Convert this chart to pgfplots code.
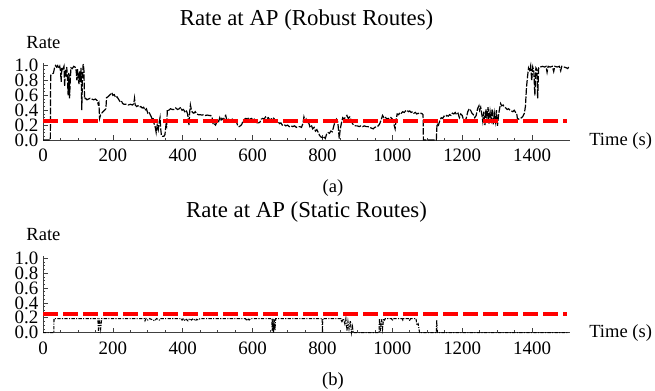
\documentclass[border=0pt]{standalone}
\usepackage{pgfplots}
\pgfplotsset{compat=1.18}
\usepackage{fontspec}
\setmainfont{Liberation Serif}

\pgfplotstableread{
x y
0 0
21 0
22 0.87
25 0.88
30 0.90
33 0.97
36 1.00
39 0.98
42 1.00
45 0.96
48 0.99
50 0.93
52 0.78
54 0.97
57 0.95
60 0.99
62 0.72
64 0.95
66 0.90
68 0.98
70 0.82
72 0.60
74 0.90
76 0.56
78 0.80
80 0.97
84 0.96
88 0.99
92 0.98
95 0.93
97 0.80
99 0.95
101 0.85
103 0.75
105 0.92
107 0.78
109 0.97
111 0.40
113 0.85
115 1.02
117 0.95
119 0.55
122 0.56
126 0.54
130 0.55
135 0.56
140 0.55
145 0.54
150 0.55
155 0.53
158 0.48
160 0.50
162 0.29
165 0.34
168 0.36
172 0.38
176 0.40
180 0.42
182 0.57
186 0.58
190 0.60
194 0.62
197 0.635
200 0.60
204 0.61
208 0.57
212 0.58
216 0.55
220 0.52
224 0.53
228 0.49
232 0.48
238 0.48
244 0.47
250 0.48
256 0.47
260 0.49
262 0.56
264 0.47
268 0.45
272 0.46
276 0.44
280 0.45
284 0.43
288 0.44
292 0.40
296 0.42
300 0.36
304 0.37
308 0.33
312 0.29
315 0.30
318 0.22
321 0.18
324 0.10
327 0.20
330 0.14
333 0.25
335 0.30
337 0.15
339 0.06
342 0.05
346 0.05
349 0.07
352 0.20
354 0.18
356 0.41
360 0.40
365 0.42
370 0.41
375 0.41
380 0.43
385 0.41
390 0.42
394 0.44
398 0.40
402 0.41
406 0.38
410 0.40
414 0.35
418 0.20
420 0.38
422 0.47
425 0.40
428 0.37
432 0.36
436 0.38
440 0.35
445 0.34
450 0.34
455 0.335
460 0.34
465 0.33
470 0.335
475 0.33
480 0.33
484 0.30
487 0.21
490 0.22
494 0.20
497 0.24
500 0.27
503 0.25
506 0.30
509 0.26
512 0.29
516 0.27
520 0.31
523 0.33
526 0.27
530 0.29
534 0.26
538 0.27
542 0.28
546 0.26
550 0.27
554 0.24
557 0.20
561 0.18
565 0.19
569 0.21
573 0.26
577 0.28
581 0.29
585 0.28
589 0.30
593 0.28
597 0.29
601 0.27
605 0.28
609 0.25
613 0.23
617 0.23
621 0.24
625 0.28
629 0.29
633 0.28
637 0.31
641 0.29
645 0.30
649 0.27
653 0.28
657 0.30
661 0.29
665 0.26
669 0.24
673 0.25
677 0.22
681 0.23
685 0.20
690 0.21
695 0.19
700 0.20
705 0.18
710 0.19
715 0.18
720 0.19
725 0.17
730 0.18
735 0.18
740 0.17
744 0.22
747 0.31
750 0.26
753 0.28
756 0.22
760 0.24
764 0.18
768 0.20
772 0.15
776 0.17
780 0.12
784 0.14
788 0.10
792 0.06
796 0.04
800 0.03
804 0.05
808 0.02
812 0.08
816 0.10
820 0.09
824 0.12
828 0.11
832 0.18
836 0.25
840 0.28
844 0.24
848 0.02
851 0.15
854 0.22
858 0.30
862 0.28
866 0.31
870 0.33
874 0.29
878 0.31
882 0.27
886 0.22
890 0.20
895 0.19
900 0.19
905 0.18
910 0.19
915 0.18
920 0.19
925 0.18
930 0.18
935 0.17
940 0.16
945 0.15
950 0.17
955 0.18
960 0.19
964 0.22
968 0.27
972 0.33
976 0.30
980 0.31
984 0.28
988 0.29
992 0.27
996 0.30
1000 0.28
1004 0.22
1008 0.15
1011 0.28
1014 0.35
1018 0.34
1022 0.37
1026 0.36
1030 0.38
1034 0.37
1038 0.39
1042 0.40
1046 0.38
1050 0.39
1054 0.37
1058 0.38
1062 0.36
1066 0.37
1070 0.35
1074 0.36
1078 0.35
1082 0.36
1086 0.35
1088 0.34
1089 0.0
1126 0.0
1128 0.22
1132 0.20
1136 0.26
1140 0.30
1144 0.29
1148 0.32
1152 0.31
1156 0.33
1160 0.32
1164 0.34
1168 0.33
1172 0.36
1176 0.35
1180 0.37
1184 0.34
1188 0.36
1192 0.30
1196 0.35
1200 0.33
1204 0.27
1208 0.25
1212 0.30
1216 0.38
1220 0.42
1224 0.40
1228 0.36
1232 0.34
1236 0.30
1240 0.33
1244 0.42
1248 0.46
1250 0.40
1253 0.44
1256 0.35
1259 0.25
1262 0.38
1265 0.20
1268 0.41
1271 0.30
1274 0.44
1277 0.22
1280 0.38
1283 0.28
1286 0.42
1289 0.21
1292 0.36
1295 0.25
1298 0.40
1301 0.19
1304 0.33
1307 0.42
1310 0.49
1313 0.46
1317 0.47
1321 0.44
1325 0.43
1329 0.41
1333 0.42
1337 0.40
1341 0.39
1345 0.38
1349 0.40
1353 0.37
1356 0.36
1358 0.29
1362 0.28
1366 0.29
1370 0.30
1374 0.32
1378 0.36
1381 0.45
1384 0.70
1387 0.85
1390 0.97
1393 0.94
1396 1.00
1399 0.80
1402 0.98
1405 0.93
1408 0.60
1411 0.97
1414 0.95
1416 0.56
1419 0.97
1424 0.98
1430 0.99
1436 0.98
1440 0.99
1443 0.91
1446 0.99
1452 0.98
1458 0.99
1462 0.92
1465 0.99
1472 0.98
1478 0.99
1482 0.93
1485 0.99
1492 0.98
1498 0.97
1502 0.96
1505 0.98
}\robust

\pgfplotstableread{
x y
0 0
31 0
31.5 0.19
157 0.19
159 0.0
161 0.19
165 0.05
168 0.19
290 0.19
292 0.16
295 0.19
300 0.17
305 0.19
320 0.16
325 0.19
333 0.17
336 0.19
396 0.19
398 0.17
402 0.19
406 0.16
410 0.18
415 0.16
420 0.19
425 0.17
430 0.19
436 0.16
440 0.18
445 0.17
450 0.19
580 0.19
582 0.16
586 0.19
590 0.17
594 0.19
655 0.19
656 0.02
658 0.19
660 0.0
662 0.18
664 0.03
666 0.19
799 0.19
800 0.0
801 0.19
853 0.19
855 0.14
860 0.19
864 0.12
867 0.19
870 0.02
873 0.15
876 0.05
880 0.16
883 0.0
886 0.08
888 0.0
962 0.0
963 0.19
966 0.02
969 0.18
972 0.05
975 0.19
978 0.17
980 0.19
998 0.19
1000 0.16
1002 0.19
1028 0.19
1030 0.17
1032 0.19
1048 0.19
1050 0.16
1052 0.19
1068 0.19
1070 0.10
1074 0.12
1078 0.0
1126 0.0
1127 0.17
1129 0.0
1505 0.0
}\static

\pgfplotsset{
  rateaxis/.style={
    scale only axis,
    width=395.6pt, height=57.5pt,
    xmin=0, xmax=1510, ymin=0, ymax=1.03,
    axis x line*=bottom, axis y line*=left,
    axis line style={black!75, line width=0.6pt},
    xtick={0,200,...,1400}, minor x tick num=3,
    ytick={0,0.2,...,1.0}, minor y tick num=3,
    tick align=inside,
    major tick length=3.5pt, minor tick length=1.8pt,
    tick style={black!75, line width=0.5pt},
    every tick label/.append style={font=\fontsize{14.2}{14}\selectfont},
    xticklabel style={yshift=-3pt, /pgf/number format/.cd, set thousands separator={}},
    yticklabel style={inner ysep=0pt, /pgf/number format/.cd, fixed, fixed zerofill, precision=1},
    /pgf/number format/assume math mode=true,
    clip=false,
  },
  threshold/.style={red, line width=3pt, dash pattern=on 11pt off 4pt},
}

\begin{document}
\begin{tikzpicture}
\useasboundingbox (0,0) rectangle (491.25pt,292.5pt);

% (a) robust routes
\begin{axis}[rateaxis, at={(32.25pt,187.5pt)}, anchor=south west]
  \addplot[black, line width=0.9pt, dash pattern=on 5pt off 1.2pt] table[x=x,y=y] {\robust};
  \addplot[threshold] coordinates {(0,0.25) (1500,0.25)};
\end{axis}

% (b) static routes
\begin{axis}[rateaxis, at={(32.25pt,42.98pt)}, anchor=south west]
  \addplot[black, line width=0.8pt, dash pattern=on 2.5pt off 1pt on 0.8pt off 1pt] table[x=x,y=y] {\static};
  \addplot[threshold] coordinates {(0,0.25) (1500,0.25)};
\end{axis}

\node[font=\fontsize{17.1}{18}\selectfont] at (229.9pt,277.5pt) {Rate at AP (Robust Routes)};
\node[font=\fontsize{17.1}{18}\selectfont] at (229.9pt,133.7pt) {Rate at AP (Static Routes)};
\node[font=\fontsize{13.9}{14}\selectfont] at (32.6pt,260.25pt) {Rate};
\node[font=\fontsize{13.9}{14}\selectfont] at (32.6pt,116.25pt) {Rate};
\node[font=\fontsize{13.9}{14}\selectfont, anchor=west, inner sep=0pt] at (441.75pt,186.75pt) {Time (s)};
\node[font=\fontsize{13.9}{14}\selectfont, anchor=west, inner sep=0pt] at (441.75pt,42.5pt) {Time (s)};
\node[font=\fontsize{13.9}{14}\selectfont] at (249.75pt,151.5pt) {(a)};
\node[font=\fontsize{13.9}{14}\selectfont] at (249.75pt,6.5pt) {(b)};
\end{tikzpicture}
\end{document}
